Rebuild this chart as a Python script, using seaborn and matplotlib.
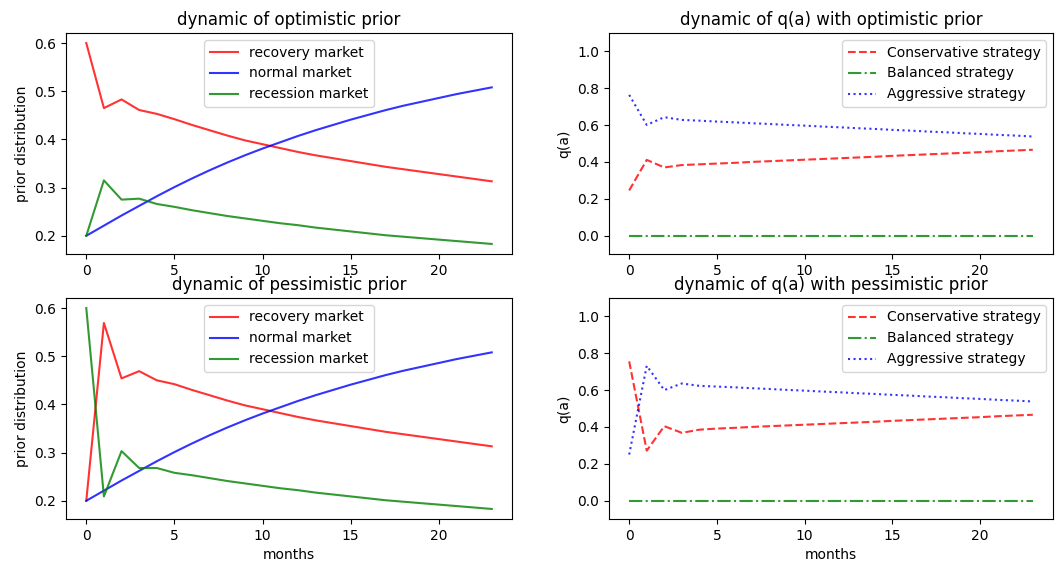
import numpy as np
import matplotlib
matplotlib.use("Agg")
import matplotlib.pyplot as plt
import seaborn as sns

# months 0..23
months = list(range(24))

# optimistic prior
opt_recovery = [0.600, 0.465, 0.483, 0.461, 0.453, 0.442, 0.430, 0.419, 0.408, 0.398,
                0.390, 0.382, 0.374, 0.367, 0.361, 0.355, 0.349, 0.343, 0.338, 0.333,
                0.328, 0.323, 0.318, 0.313]
opt_normal = [0.200, 0.221, 0.242, 0.262, 0.282, 0.301, 0.319, 0.336, 0.352, 0.367,
              0.381, 0.394, 0.407, 0.419, 0.430, 0.441, 0.451, 0.461, 0.470, 0.478,
              0.486, 0.494, 0.501, 0.508]
opt_recession = [0.200, 0.315, 0.275, 0.277, 0.266, 0.260, 0.253, 0.247, 0.241, 0.236,
                 0.231, 0.226, 0.222, 0.217, 0.213, 0.209, 0.205, 0.201, 0.198, 0.195,
                 0.192, 0.189, 0.186, 0.183]

# pessimistic prior
pes_recovery = [0.200, 0.569, 0.454, 0.469, 0.450, 0.442, 0.430, 0.419, 0.408, 0.398,
                0.390, 0.382, 0.374, 0.367, 0.361, 0.355, 0.349, 0.343, 0.338, 0.333,
                0.328, 0.323, 0.318, 0.313]
pes_normal = [0.200, 0.221, 0.242, 0.262, 0.282, 0.301, 0.319, 0.336, 0.352, 0.367,
              0.381, 0.394, 0.407, 0.419, 0.430, 0.441, 0.451, 0.461, 0.470, 0.478,
              0.486, 0.494, 0.501, 0.508]
pes_recession = [0.600, 0.209, 0.303, 0.268, 0.268, 0.258, 0.253, 0.247, 0.241, 0.236,
                 0.231, 0.226, 0.222, 0.217, 0.213, 0.209, 0.205, 0.201, 0.198, 0.195,
                 0.192, 0.189, 0.186, 0.183]

# q(a) with optimistic prior
opt_conservative = [0.245, 0.411, 0.370, 0.383, 0.387, 0.391, 0.395, 0.400, 0.404, 0.408,
                    0.412, 0.416, 0.420, 0.424, 0.428, 0.433, 0.437, 0.441, 0.445, 0.449,
                    0.453, 0.458, 0.462, 0.466]
opt_balanced = [0.0] * 24
opt_aggressive = [0.764, 0.601, 0.643, 0.628, 0.624, 0.619, 0.615, 0.610, 0.606, 0.601,
                  0.597, 0.592, 0.588, 0.583, 0.579, 0.574, 0.570, 0.565, 0.561, 0.556,
                  0.552, 0.547, 0.543, 0.538]

# q(a) with pessimistic prior
pes_conservative = [0.756, 0.271, 0.404, 0.368, 0.385, 0.391, 0.395, 0.400, 0.404, 0.408,
                    0.412, 0.416, 0.420, 0.424, 0.428, 0.433, 0.437, 0.441, 0.445, 0.449,
                    0.453, 0.458, 0.462, 0.466]
pes_balanced = [0.0] * 24
pes_aggressive = [0.250, 0.732, 0.600, 0.636, 0.623, 0.619, 0.615, 0.610, 0.606, 0.601,
                  0.597, 0.592, 0.588, 0.583, 0.579, 0.574, 0.570, 0.565, 0.561, 0.556,
                  0.552, 0.547, 0.543, 0.538]

W, H = 1060, 566
fig = plt.figure(figsize=(W / 100, H / 100), dpi=100)
ax1 = fig.add_axes([66 / W, 1 - 254 / H, 446 / W, 221 / H])
ax2 = fig.add_axes([609 / W, 1 - 254 / H, 444 / W, 221 / H])
ax3 = fig.add_axes([66 / W, 1 - 519 / H, 446 / W, 221 / H])
ax4 = fig.add_axes([609 / W, 1 - 519 / H, 444 / W, 221 / H])


def prior_panel(ax, rec, nor, ress, title):
    sns.lineplot(x=months, y=rec, ax=ax, color="red", alpha=0.8, label="recovery market")
    sns.lineplot(x=months, y=nor, ax=ax, color="blue", alpha=0.8, label="normal market")
    sns.lineplot(x=months, y=ress, ax=ax, color="green", alpha=0.8, label="recession market")
    ax.set_title(title)
    ax.set_ylabel("prior distribution")
    ax.legend(loc="upper center")


def q_panel(ax, cons, bal, agg, title):
    sns.lineplot(x=months, y=cons, ax=ax, color="red", alpha=0.8, linestyle="--",
                 label="Conservative strategy")
    sns.lineplot(x=months, y=bal, ax=ax, color="green", alpha=0.8, linestyle="-.",
                 label="Balanced strategy")
    sns.lineplot(x=months, y=agg, ax=ax, color="blue", alpha=0.8, linestyle=":",
                 label="Aggressive strategy")
    ax.set_title(title)
    ax.set_ylabel("q(a)")
    ax.set_ylim(-0.1, 1.1)
    ax.legend(loc="upper right")


prior_panel(ax1, opt_recovery, opt_normal, opt_recession, "dynamic of optimistic prior")
q_panel(ax2, opt_conservative, opt_balanced, opt_aggressive, "dynamic of q(a) with optimistic prior")
prior_panel(ax3, pes_recovery, pes_normal, pes_recession, "dynamic of pessimistic prior")
q_panel(ax4, pes_conservative, pes_balanced, pes_aggressive, "dynamic of q(a) with pessimistic prior")

ax3.set_xlabel("months")
ax4.set_xlabel("months")
for ax in [ax1, ax2, ax3, ax4]:
    ax.set_xticks([0, 5, 10, 15, 20])

fig.savefig("out.png", dpi=100)
